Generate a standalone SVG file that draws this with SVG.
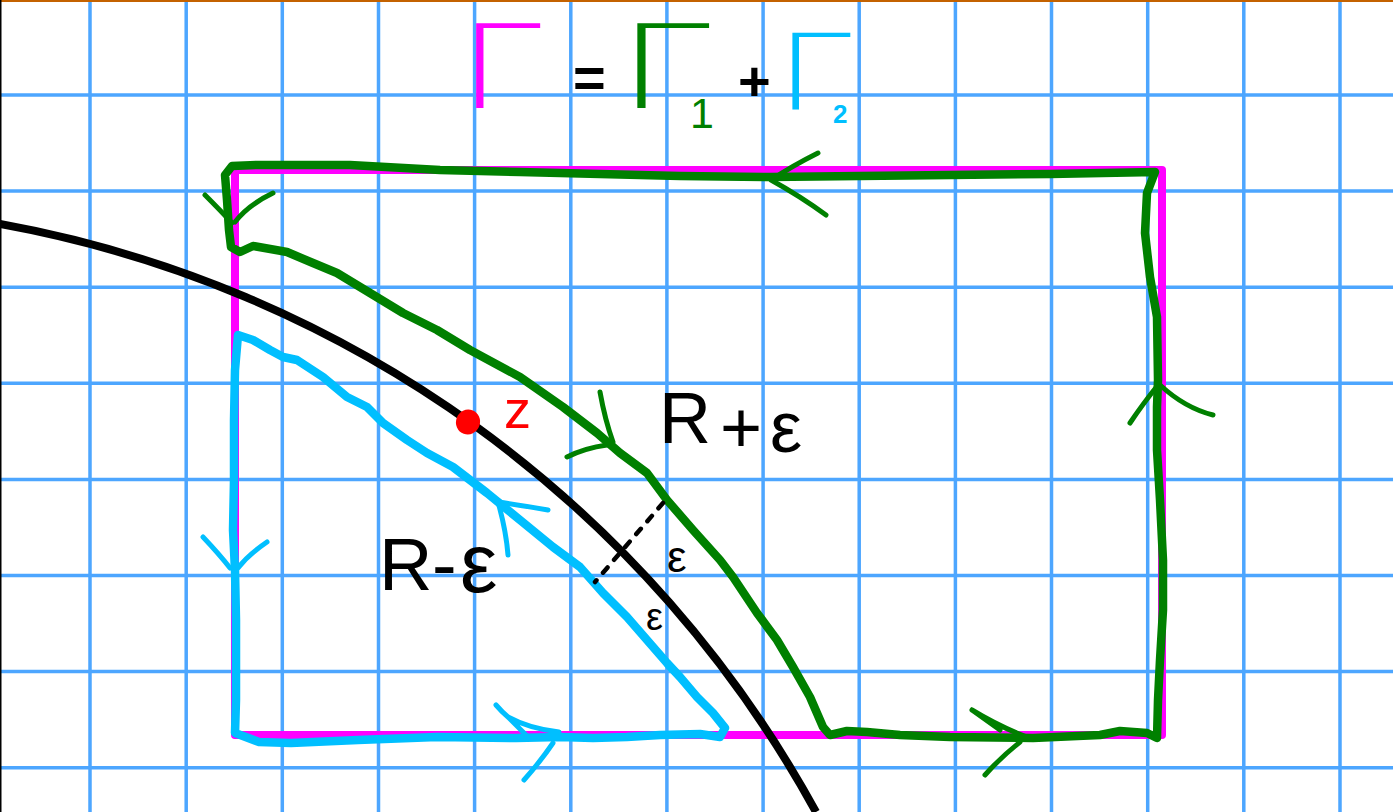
<svg xmlns="http://www.w3.org/2000/svg" width="1393" height="812" viewBox="0 0 1393 812">
<style>
.grid{stroke:#4da6ff;stroke-width:3.5;fill:none}
.hand{fill:none;stroke-linecap:round;stroke-linejoin:round}
.g{stroke:#008000}
.c{stroke:#00bfff}
.thick{stroke-width:8.5}
.arr{stroke-width:5}
.lbl{font-family:"Liberation Sans",Arial,sans-serif}
.ttl{font-family:"DejaVu Sans","Liberation Sans",sans-serif;font-weight:200}
.op{font-family:"Liberation Sans",Arial,sans-serif;font-weight:bold}
</style>
<rect x="0" y="0" width="1393" height="812" fill="#ffffff"/>
<g id="grid">
<path class="grid" d="M90 0V812M186.2 0V812M282.3 0V812M378.5 0V812M474.6 0V812M570.8 0V812M666.9 0V812M763.1 0V812M859.2 0V812M955.4 0V812M1051.5 0V812M1147.7 0V812M1243.8 0V812M1340 0V812M0 95H1393M0 191.1H1393M0 287.2H1393M0 383.3H1393M0 479.4H1393M0 575.5H1393M0 671.6H1393M0 767.7H1393"/>
<line x1="0" y1="1" x2="1393" y2="1" stroke="#c46200" stroke-width="2"/>
<line x1="0.75" y1="0" x2="0.75" y2="812" stroke="#000" stroke-width="1.5"/>
</g>
<g id="gamma-rect">
<rect x="235" y="170" width="927" height="565" fill="none" stroke="#ff00ff" stroke-width="8" stroke-linejoin="round"/>
</g>
<g id="circle-R">
<path d="M0 224A1167 1167 0 0 1 816 812" fill="none" stroke="#000" stroke-width="8"/>
</g>
<g id="gamma1">
<polyline class="hand g thick" points="1155,172 1050,174 950,175 860,176 770,177 680,176 600,174 520,172 440,170 350,165 257,165 232,166 225,175 227,200 229,230 231,247 240,252 253,246 287,252 313,263 337,273 370,293 403,313 437,330 470,350 520,377 563,407 597,433 620,453 647,473 667,500 693,530 720,560 733,577 757,613 777,640 793,667 810,697 823,727 830,735 847,731 867,732 900,735 950,737 1033,738 1100,735 1120,731 1147,733 1157,738 1158,700 1160,660 1163,610 1163,560 1160,500 1157,450 1157,407 1158,380 1157,317 1150,277 1145,233 1147,193 1155,172"/>
<path class="hand g arr" d="M818 153Q792 166 771 180Q800 196 826 215M205 195Q220 210 232 223M273 193Q248 205 235 222M600 392Q605 420 613 442M567 457Q585 448 607 445M972 710Q1000 727 1027 737M972 710L1000 730M1020 742Q1000 758 985 775M1158 385Q1142 405 1130 423M1160 385Q1185 408 1213 415"/>
</g>
<g id="gamma2">
<polyline class="hand c thick" points="238,335 253,340 270,350 283,357 297,360 323,377 347,397 367,407 383,423 407,440 427,453 453,467 487,493 520,520 553,547 580,567 603,593 627,617 647,640 667,663 680,677 697,697 713,713 725,728 720,737 700,734 660,735 627,737 593,738 560,737 516,738 437,737 358,740 291,743 259,742 235,733 236,700 236,620 235,570 233,530 234,480 234,420 235,370 238,335"/>
<path class="hand c arr" d="M203 537Q220 555 230 568M267 542Q248 555 238 568M548 510Q520 505 498 502Q506 530 508 555M496 705Q502 712 508 717Q530 729 559 732M508 717L528 737M553 743Q540 762 524 780"/>
</g>
<g id="epsilon-gap">
<line x1="663" y1="503" x2="595" y2="582" stroke="#000" stroke-width="4.5" stroke-linecap="round" stroke-dasharray="7 10"/>
</g>
<g id="point-z">
<ellipse cx="468" cy="422" rx="12" ry="12.5" fill="#ff0000" transform="rotate(20 468 422)"/>
<text class="lbl" x="504" y="428" font-size="54" fill="#ff0000">z</text>
</g>
<g id="labels">
<text class="lbl" font-size="72" fill="#000"><tspan x="659" y="443">R</tspan><tspan x="720" y="452">+</tspan><tspan x="770" y="452">ε</tspan></text>
<text class="lbl" font-size="74" fill="#000"><tspan x="379" y="590">R</tspan><tspan x="432" y="590">-</tspan><tspan x="460" y="592" font-size="84">ε</tspan></text>
<text class="lbl" x="667" y="572" font-size="44" fill="#000">ε</text>
<text class="lbl" x="646" y="630" font-size="38" fill="#000">ε</text>
</g>
<g id="title">
<text class="ttl"><tspan x="458" y="108" font-size="115" fill="#ff00ff" textLength="83" lengthAdjust="spacingAndGlyphs">Γ</tspan><tspan class="op" x="573" y="97" font-size="56" fill="#000">=</tspan><tspan x="617" y="108" font-size="115" fill="#008000" textLength="93" lengthAdjust="spacingAndGlyphs">Γ</tspan><tspan class="lbl" x="690" y="128" font-size="43" fill="#008000">1</tspan><tspan class="op" x="738" y="100" font-size="56" fill="#000">+</tspan><tspan x="776" y="110" font-size="105" fill="#00bfff" textLength="75" lengthAdjust="spacingAndGlyphs">Γ</tspan><tspan class="op" x="833" y="123" font-size="26" fill="#00bfff">2</tspan></text>
</g>
</svg>
